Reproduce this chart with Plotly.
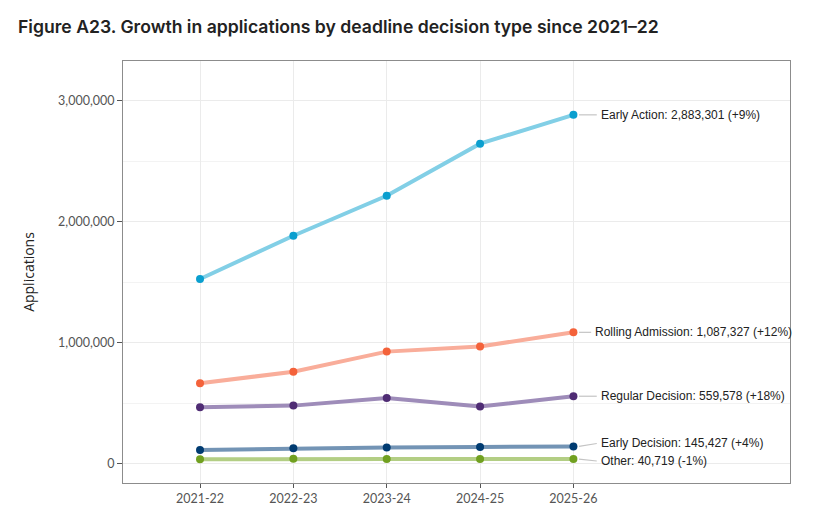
import plotly.graph_objects as go

years = ["2021-22", "2022-23", "2023-24", "2024-25", "2025-26"]
series_names = ["Early Action", "Rolling Admission", "Regular Decision", "Early Decision", "Other"]
early_action = [1528000, 1885000, 2215000, 2645000, 2883301]
rolling_admission = [666000, 762000, 928000, 971000, 1087327]
regular_decision = [468000, 482000, 544000, 474000, 559578]
early_decision = [116000, 130000, 136000, 139800, 145427]
other = [39000, 43000, 41000, 41100, 40719]
pct_change = ["+9%", "+12%", "+18%", "+4%", "-1%"]
y_tick_vals = [0, 1000000, 2000000, 3000000]
y_tick_text = ["0", "1,000,000", "2,000,000", "3,000,000"]

values = [early_action, rolling_admission, regular_decision, early_decision, other]
line_colors = ["#82cfe6", "#f9ad9a", "#9e8cb9", "#7394b5", "#b3ce84"]
marker_colors = ["#0a9fcf", "#f4623a", "#4f2c74", "#003b71", "#71a020"]
label_dx = [0.27, 0.21, 0.27, 0.27, 0.27]
label_dy = [0, 0, 0, 24000, -16000]

# the page body adds an 8px offset, so the figure is positioned to fit the window
W, H = 828, 501
L, R, T, B = 115, 46, 53, 26
plot_w, plot_h = W - L - R, H - T - B

xs = list(range(len(years)))
fig = go.Figure()

for name, vals, lc, mc in zip(series_names, values, line_colors, marker_colors):
    fig.add_trace(go.Scatter(x=xs, y=vals, mode="lines", line=dict(color=lc, width=4),
                             showlegend=False, hoverinfo="skip"))
    fig.add_trace(go.Scatter(x=xs, y=vals, mode="markers", marker=dict(color=mc, size=8),
                             showlegend=False, name=name))

annotations = []
for name, vals, pc, dx, dy in zip(series_names, values, pct_change, label_dx, label_dy):
    last = vals[-1]
    fig.add_trace(go.Scatter(x=[xs[-1] + 0.06, xs[-1] + dx - 0.02], y=[last, last + dy], mode="lines",
                             line=dict(color="#c4c4c4", width=1.2), showlegend=False, hoverinfo="skip"))
    annotations.append(dict(x=xs[-1] + dx, y=last + dy, xref="x", yref="y",
                            text=f"{name}: {last:,} ({pc})", showarrow=False,
                            xanchor="left", yanchor="middle",
                            font=dict(family="Liberation Sans, Arial", size=12, color="#222222")))

annotations.append(dict(x=-(L - 8) / plot_w, y=1 + (T - 18) / plot_h, xref="paper", yref="paper",
                        xanchor="left", yanchor="middle",
                        text="Figure A23. Growth in applications by deadline decision type since 2021–22",
                        showarrow=False, font=dict(family="Inter", size=17.6, weight=600, color="#222222")))

fig.update_layout(
    width=W, height=H,
    margin=dict(l=L, r=R, t=T, b=B, autoexpand=False),
    paper_bgcolor="white", plot_bgcolor="white",
    annotations=annotations,
    font=dict(family="Lato, Noto Sans", color="#555555"),
)

fig.update_xaxes(
    range=[-0.825, 6.32], tickvals=xs, ticktext=years,
    showgrid=True, gridcolor="#ebebeb", gridwidth=1,
    ticks="outside", ticklen=4, tickcolor="#555555",
    showline=True, linecolor="#8c8c8c", linewidth=1, mirror=True,
    tickfont=dict(size=12.5, color="#555555"), zeroline=False, automargin=False,
)
fig.update_yaxes(
    range=[-157000, 3328000], tickvals=y_tick_vals, ticktext=y_tick_text,
    showgrid=True, gridcolor="#ebebeb", gridwidth=1.3,
    minor=dict(dtick=500000, tick0=500000, showgrid=True, gridcolor="#f3f3f3", gridwidth=0.8),
    ticks="outside", ticklen=5, tickcolor="#555555",
    showline=True, linecolor="#8c8c8c", linewidth=1, mirror=True,
    tickfont=dict(size=12.5, color="#555555"), zeroline=False, automargin=False,
    title=dict(text="Applications", font=dict(family="Open Sans", size=14, color="#222222"), standoff=20),
)

fig.write_html("out.html")
